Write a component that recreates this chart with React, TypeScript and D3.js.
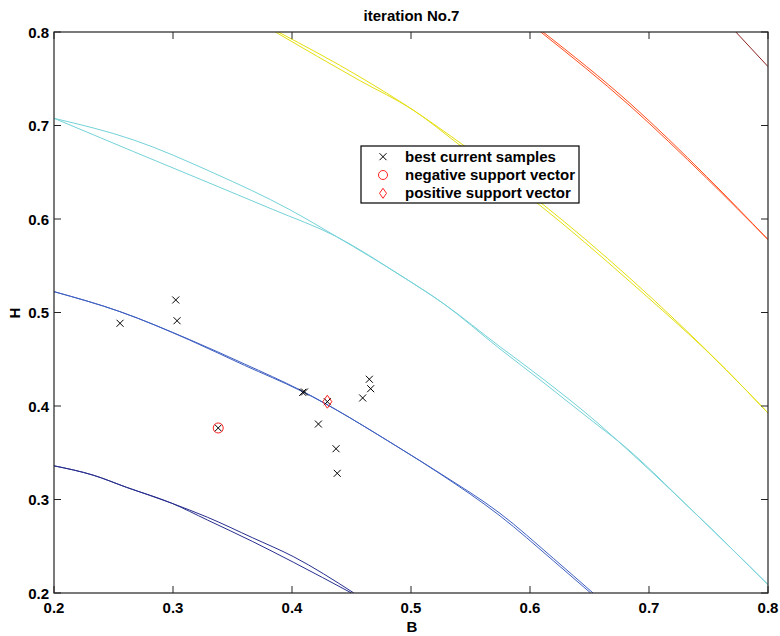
import React from "react";
import * as d3 from "d3";

type Pt = [number, number];

const xTicks = [0.2, 0.3, 0.4, 0.5, 0.6, 0.7, 0.8];
const yTicks = [0.2, 0.3, 0.4, 0.5, 0.6, 0.7, 0.8];

const navyA: Pt[] = [[0.2, 0.336], [0.233, 0.326], [0.261, 0.313], [0.299, 0.296], [0.329, 0.281], [0.367, 0.259], [0.401, 0.239], [0.452, 0.2]];
const navyB: Pt[] = [[0.2, 0.336], [0.233, 0.326], [0.261, 0.313], [0.299, 0.296], [0.329, 0.278], [0.367, 0.255], [0.401, 0.233], [0.45, 0.2]];

const blueA: Pt[] = [[0.2, 0.5223], [0.2555, 0.5009], [0.314, 0.471], [0.36, 0.445], [0.407, 0.417], [0.4908, 0.3547], [0.5244, 0.328], [0.5748, 0.2852], [0.6196, 0.2371], [0.653, 0.2]];
const blueB: Pt[] = [[0.2, 0.5223], [0.2555, 0.5009], [0.314, 0.4705], [0.36, 0.4435], [0.407, 0.4165], [0.4908, 0.3547], [0.5244, 0.3275], [0.5748, 0.2825], [0.6196, 0.2345], [0.651, 0.2]];

const cyanA: Pt[] = [[0.2, 0.7077], [0.267, 0.6845], [0.3345, 0.649], [0.3975, 0.6104], [0.4376, 0.581], [0.4908, 0.54], [0.527, 0.5098], [0.5748, 0.4634], [0.6084, 0.4314], [0.6588, 0.3797], [0.673, 0.3636], [0.737, 0.2875], [0.8, 0.209]];
const cyanB: Pt[] = [[0.2, 0.7077], [0.267, 0.672], [0.3345, 0.6364], [0.3835, 0.6104], [0.4376, 0.581], [0.4908, 0.54], [0.527, 0.5098], [0.5748, 0.461], [0.6084, 0.428], [0.6588, 0.3775], [0.673, 0.3636], [0.737, 0.2875], [0.8, 0.209]];

const yellowA: Pt[] = [[0.3885, 0.8], [0.457, 0.752], [0.5017, 0.7166], [0.544, 0.679], [0.608, 0.6185], [0.684, 0.5366], [0.765, 0.4385], [0.8, 0.3925]];
const yellowB: Pt[] = [[0.386, 0.8], [0.457, 0.748], [0.5017, 0.7166], [0.544, 0.676], [0.608, 0.615], [0.684, 0.533], [0.765, 0.4385], [0.8, 0.3925]];

const orangeA: Pt[] = [[0.611, 0.8], [0.684, 0.7237], [0.7485, 0.6453], [0.8, 0.578]];
const orangeB: Pt[] = [[0.609, 0.8], [0.684, 0.721], [0.7485, 0.6435], [0.8, 0.578]];

const darkRed: Pt[] = [[0.773, 0.8], [0.8, 0.763]];

const contours: { pts: Pt[]; color: string }[] = [
  { pts: navyA, color: "#272e8e" },
  { pts: navyB, color: "#272e8e" },
  { pts: blueA, color: "#3f60c2" },
  { pts: blueB, color: "#3f60c2" },
  { pts: cyanA, color: "#74d2d8" },
  { pts: cyanB, color: "#74d2d8" },
  { pts: yellowA, color: "#e4df10" },
  { pts: yellowB, color: "#e4df10" },
  { pts: orangeA, color: "#ff4e1e" },
  { pts: orangeB, color: "#ff4e1e" },
  { pts: darkRed, color: "#8e2020" },
];

const samples: Pt[] = [
  [0.2555, 0.4885], [0.3023, 0.5134], [0.3034, 0.4912], [0.409, 0.4146], [0.4105, 0.415],
  [0.4297, 0.4046], [0.338, 0.3765], [0.4222, 0.3807], [0.465, 0.4286], [0.4661, 0.4185],
  [0.4594, 0.4086], [0.437, 0.3543], [0.438, 0.328],
];
const negSV: Pt[] = [[0.338, 0.3765]];
const posSV: Pt[] = [[0.4297, 0.4046]];

const legendLabels = ["best current samples", "negative support vector", "positive support vector"];

const W = 780, H = 636;
const L = 54, R = 768, T = 32, B = 593;
const FONT = "Arial, 'Liberation Sans', Helvetica, sans-serif";

export default function App() {
  const x = d3.scaleLinear().domain([0.2, 0.8]).range([L, R]);
  const y = d3.scaleLinear().domain([0.2, 0.8]).range([B, T]);
  const line = d3.line<Pt>().x(d => x(d[0])).y(d => y(d[1])).curve(d3.curveMonotoneX);
  const tick = 7;

  const cross = (cx: number, cy: number, s: number, key: string) => (
    <path key={key} d={`M${cx - s},${cy - s}L${cx + s},${cy + s}M${cx - s},${cy + s}L${cx + s},${cy - s}`} stroke="#000" strokeWidth={1} fill="none" />
  );
  const diamond = (cx: number, cy: number, w: number, h: number, key: string) => (
    <path key={key} d={`M${cx},${cy - h}L${cx + w},${cy}L${cx},${cy + h}L${cx - w},${cy}Z`} stroke="#ff2020" strokeWidth={1} fill="none" />
  );

  const legX = 361, legY = 146, legW = 218, legH = 57;
  const rows = [156.7, 175, 193.3];

  return (
    <div style={{ position: "fixed", left: 0, top: 0, width: W, height: H, background: "#fff" }}>
      <svg width={W} height={H} style={{ display: "block" }} fontFamily={FONT}>
        <rect x={0} y={0} width={W} height={H} fill="#fff" />
        <defs>
          <clipPath id="plotclip">
            <rect x={L} y={T} width={R - L} height={B - T} />
          </clipPath>
        </defs>
        <g clipPath="url(#plotclip)">
          {contours.map((c, i) => (
            <path key={i} d={line(c.pts) || ""} stroke={c.color} strokeWidth={1} fill="none" />
          ))}
        </g>
        {samples.map((p, i) => cross(x(p[0]), y(p[1]), 3.5, "s" + i))}
        {negSV.map((p, i) => (
          <circle key={"n" + i} cx={x(p[0])} cy={y(p[1])} r={5} stroke="#ff2020" strokeWidth={1} fill="none" />
        ))}
        {posSV.map((p, i) => diamond(x(p[0]), y(p[1]), 4.5, 6.5, "p" + i))}

        <rect x={L} y={T} width={R - L} height={B - T} fill="none" stroke="#222" strokeWidth={1.2} />
        {xTicks.map((t, i) => (
          <g key={"xt" + i}>
            <line x1={x(t)} x2={x(t)} y1={B} y2={B - tick} stroke="#222" />
            <line x1={x(t)} x2={x(t)} y1={T} y2={T + tick} stroke="#222" />
            <text x={x(t)} y={B + 20} textAnchor="middle" fontSize={15} fontWeight="bold">{t.toFixed(1)}</text>
          </g>
        ))}
        {yTicks.map((t, i) => (
          <g key={"yt" + i}>
            <line x1={L} x2={L + tick} y1={y(t)} y2={y(t)} stroke="#222" />
            <line x1={R} x2={R - tick} y1={y(t)} y2={y(t)} stroke="#222" />
            <text x={49} y={y(t) + 5.5} textAnchor="end" fontSize={15} fontWeight="bold">{t.toFixed(1)}</text>
          </g>
        ))}

        <text x={411.5} y={21} textAnchor="middle" fontSize={15} fontWeight="bold">iteration No.7</text>
        <text x={412} y={632} textAnchor="middle" fontSize={15} fontWeight="bold">B</text>
        <text transform={`translate(19.5,313) rotate(-90)`} textAnchor="middle" fontSize={15} fontWeight="bold">H</text>

        <rect x={legX} y={legY} width={legW} height={legH} fill="#fff" stroke="#000" strokeWidth={1.2} />
        {cross(383, rows[0], 3.5, "lg0")}
        <circle cx={383} cy={rows[1]} r={4.5} stroke="#ff2020" strokeWidth={1} fill="none" />
        {diamond(383, rows[2], 3.5, 5, "lg2")}
        {legendLabels.map((s, i) => (
          <text key={"lt" + i} x={405} y={rows[i] + 5} fontSize={15} fontWeight="bold">{s}</text>
        ))}
      </svg>
    </div>
  );
}
